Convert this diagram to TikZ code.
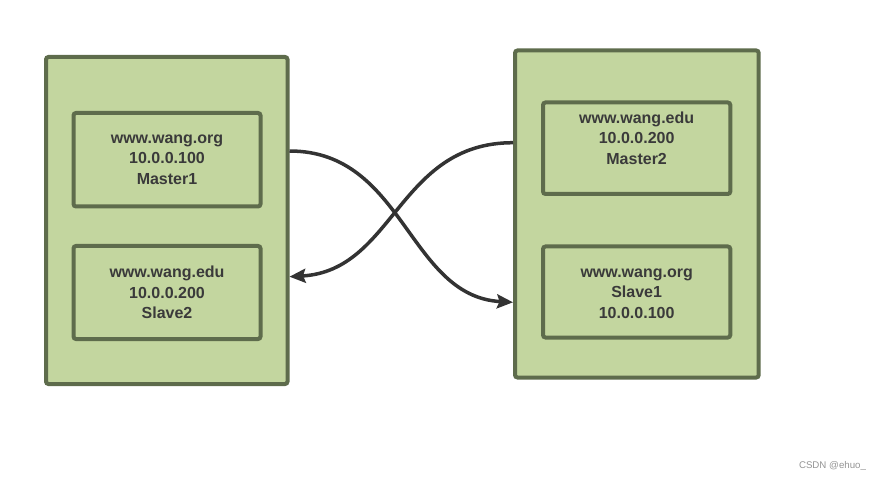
\documentclass[tikz,border=0pt]{standalone}
\usepackage{fontspec}
\setmainfont{Liberation Sans}
\usetikzlibrary{arrows.meta}
\definecolor{boxfill}{HTML}{C3D69F}
\definecolor{boxline}{HTML}{5E6C4C}
\definecolor{txtcol}{HTML}{3A3A3A}
\definecolor{edgecol}{HTML}{333333}
\begin{document}
\begin{tikzpicture}[x=1pt,y=-1pt,
  outerbox/.style={draw=boxline,fill=boxfill,line width=4pt,rounded corners=2.5pt,inner sep=0pt},
  innerbox/.style={draw=boxline,fill=boxfill,line width=4pt,rounded corners=2.5pt,inner sep=0pt},
  txt/.style={text=txtcol,font=\fontsize{16}{20.5}\selectfont\bfseries,align=center,inner sep=0pt},
  link/.style={draw=edgecol,line width=3.5pt,-{Stealth[length=16pt,width=14pt,inset=2.5pt]}}]
\useasboundingbox (0,0) rectangle (884,481);
% outer boxes
\node[outerbox,minimum width=241.5pt,minimum height=327pt] (L) at (166.75,220.5) {};
\node[outerbox,minimum width=243.7pt,minimum height=327pt] (R) at (636.85,214) {};
% inner boxes
\node[innerbox,minimum width=187pt,minimum height=93.5pt] (m1) at (167,159.75) {};
\node[innerbox,minimum width=187pt,minimum height=93pt] (s2) at (167,292.5) {};
\node[innerbox,minimum width=187.3pt,minimum height=91.5pt] (m2) at (636.65,148.25) {};
\node[innerbox,minimum width=187.3pt,minimum height=91pt] (s1) at (636.65,292) {};
% texts
\node[txt] (t1) at (m1.center) {www.wang.org\\10.0.0.100\\Master1};
\node[txt] (t2) at (s2.center) {www.wang.edu\\10.0.0.200\\Slave2};
\node[txt] (t3) at ([yshift=10pt]m2.center) {www.wang.edu\\10.0.0.200\\Master2};
\node[txt] (t4) at ([yshift=-1.3pt]s1.center) {www.wang.org\\Slave1\\10.0.0.100};
% connectors
\draw[link] ([yshift=69.5pt]L.east) .. controls +(115,0) and +(-105,-6) .. ([yshift=-88.3pt]R.west);
\draw[link] ([yshift=71.3pt]R.west) .. controls +(-115,0) and +(105,-6) .. ([yshift=-56.2pt]L.east);
% watermark
\node[text=black!42,font=\fontsize{9.7}{11}\selectfont,inner sep=0pt] (wm) at (832.5,466) {CSDN @ehuo\_};
\end{tikzpicture}
\end{document}
